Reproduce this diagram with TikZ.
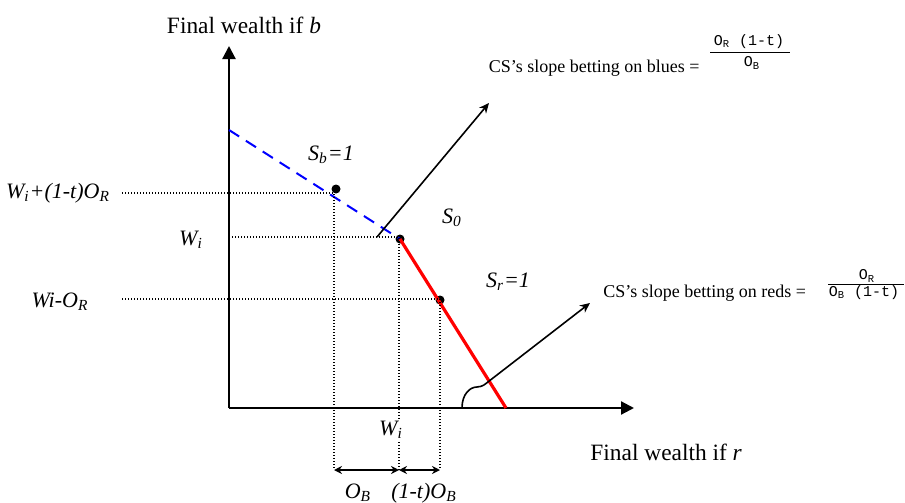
\documentclass[tikz,border=0pt]{standalone}
\usepackage{fontspec}
\setmainfont{Liberation Serif}
\setmonofont{Liberation Mono}
\usetikzlibrary{arrows.meta}
\newcommand{\sbt}[1]{\textsubscript{#1}}
\begin{document}
\begin{tikzpicture}[x=0.5pt,y=-0.5pt,
  axis/.style={line width=1.1pt,-{Triangle[length=6.5pt,width=6.5pt]}},
  guide/.style={line width=0.6pt,dash pattern=on 0.5pt off 1pt},
  slope/.style={line width=0.8pt,-{Stealth[length=5pt,width=4.5pt]}},
  dimarr/.style={line width=0.8pt,{Stealth[length=4pt,width=4pt]}-{Stealth[length=4pt,width=4pt]}},
  dot/.style={circle,fill=black,inner sep=0pt,minimum size=4.5pt},
  lab/.style={font=\fontsize{11}{13}\selectfont\itshape,inner sep=0pt},
  ttl/.style={font=\fontsize{11.7}{14}\selectfont,inner sep=0pt},
  cs/.style={font=\fontsize{9}{11}\selectfont,inner sep=0pt},
  frac/.style={font=\fontsize{7.5}{9}\selectfont\ttfamily,inner sep=0pt}
]
\useasboundingbox (0,0) rectangle (905,503);

% axes
\coordinate (O) at (229,408);
\coordinate (yend) at (229,46);
\coordinate (xend) at (634,408);
\draw[axis] (O) -- (yend);
\draw[axis] (O) -- (xend);
\node[ttl] (ylab) at (244,25) {Final wealth if \textit{b}};
\node[ttl,anchor=west] (xlab) at (590,452) {Final wealth if \textit{r}};

% budget lines
\coordinate (B0) at (229,130);
\coordinate (R1) at (506,408);
\node[dot] (S0) at (400,239) {};
\node[dot] (Sb) at (336,189) {};
\node[dot] (Sr) at (440,300) {};
\draw[blue,line width=1pt,dash pattern=on 6pt off 4pt] (B0) -- (S0.center);
\draw[red,line width=1.6pt] (S0.center) -- (R1);

% guides
\coordinate (h1a) at (122,193); \coordinate (h1b) at (334,193);
\coordinate (h2a) at (229,237); \coordinate (h2b) at (399,237);
\coordinate (h3a) at (122,299); \coordinate (h3b) at (440,299);
\coordinate (v1) at (334,470); \coordinate (v2) at (399,470); \coordinate (v3) at (440,470);
\draw[guide] (h1a) -- (h1b) -- (v1);
\draw[guide] (h2a) -- (h2b) -- (v2);
\draw[guide] (h3a) -- (h3b) -- (v3);
\draw[dimarr] (v1) -- (v2);
\draw[dimarr] (v2) -- (v3);

% labels
\node[lab] (l1) at (58,193) {W\sbt{i}+(1-t)O\sbt{R}};
\node[lab] (l2) at (191,240) {W\sbt{i}};
\node[lab] (l3) at (60,302) {Wi-O\sbt{R}};
\node[lab] (lsb) at (331,155) {S\sbt{b}=1};
\node[lab] (ls0) at (452,218) {S\sbt{0}};
\node[lab] (lsr) at (508,282) {S\sbt{r}=1};
\node[lab,fill=white,inner sep=1pt] (lwi) at (391,430) {W\sbt{i}};
\node[lab] (lob) at (358,493) {O\sbt{B}};
\node[lab] (ltob) at (424,493) {(1-t)O\sbt{B}};

% slope arrows
\coordinate (a1s) at (377,237); \coordinate (a1e) at (489,103);
\coordinate (a2s) at (484,385); \coordinate (a2e) at (590,303);
\coordinate (arc0) at (462,408);
\draw[slope] (a1s) -- (a1e);
\draw[slope] (a2s) -- (a2e);
\draw[line width=0.8pt] (arc0) .. controls (462,394) and (470,387) .. (477,387) .. controls (480,387) and (482,386) .. (a2s);

% slope texts
\node[cs,anchor=east] (blues) at (700,68) {CS’s slope betting on blues =};
\node[frac] (bnum) at (749,42) {O\sbt{R} (1-t)};
\coordinate (bb1) at (710,52); \coordinate (bb2) at (790,52);
\draw[line width=0.5pt] (bb1) -- (bb2);
\node[frac] (bden) at (752,63) {O\sbt{B}};

\node[cs,anchor=west] (reds) at (603,293) {CS’s slope betting on reds =};
\node[frac] (rnum) at (867,276) {O\sbt{R}};
\coordinate (rb1) at (828,284); \coordinate (rb2) at (904,284);
\draw[line width=0.5pt] (rb1) -- (rb2);
\node[frac] (rden) at (864,293) {O\sbt{B} (1-t)};
\end{tikzpicture}
\end{document}
